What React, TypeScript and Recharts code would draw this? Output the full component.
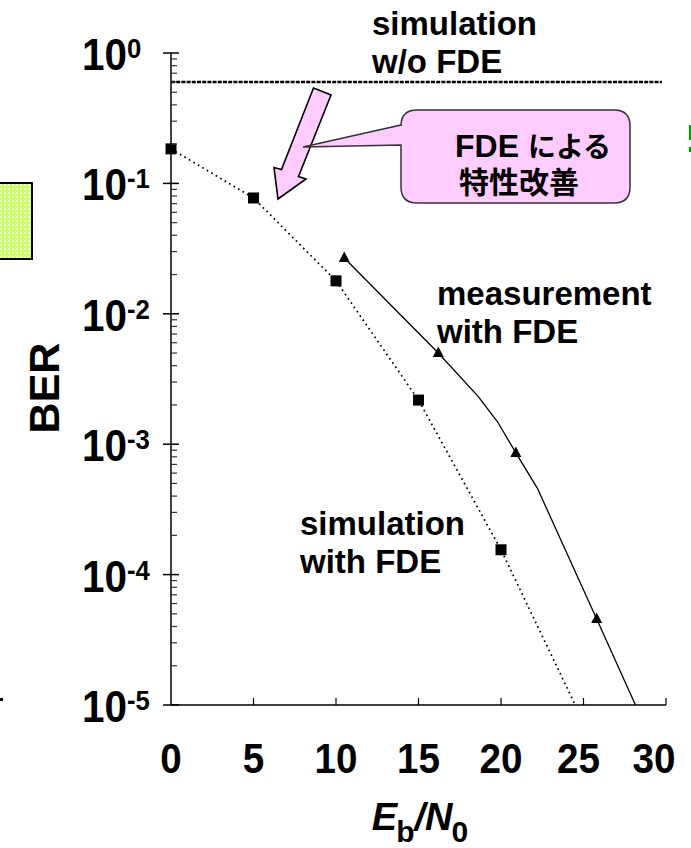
// BER vs Eb/N0: simulated FDE curve (dotted, squares), measured FDE curve
// (solid, triangles) and the flat simulation without FDE, on a log BER axis.
import React from "react";
import { Line, LineChart, XAxis, YAxis } from "recharts";

const FONT = '"Liberation Sans", Arial, Helvetica, sans-serif';
const CJK = '"Noto Sans CJK JP", "Noto Sans CJK SC", sans-serif';

// simulation with FDE — square markers
const simEbN0 = [0, 5, 10, 15, 20];
const simBer = [0.184, 0.0773, 0.0179, 0.00218, 0.000155];
// where the dotted curve runs out through the bottom of the axis
const simTailEbN0 = [24.5];
const simTailBer = [1e-5];

// measurement with FDE — triangle markers
const measEbN0 = [10.5, 16.2, 20.9, 25.8];
const measBer = [0.0268, 0.00501, 0.000857, 0.0000457];
// the solid measured curve, with its unmarked bends
const measCurveEbN0 = [10.5, 16.2, 18.6, 19.8, 20.9, 22.2, 25.8, 28.15];
const measCurveBer = [0.0268, 0.00501, 0.00234, 0.00148, 0.000857, 0.000461, 0.0000457, 0.00001];

// simulation w/o FDE — flat
const noFdeEbN0 = [0, 29.75];
const noFdeBer = [0.6, 0.6];

const xTicks = [0, 5, 10, 15, 20, 25, 30];
const decadeExps = [0, -1, -2, -3, -4, -5];
const minorSteps = [2, 3, 4, 5, 6, 7, 8, 9];

const zip = (xs: number[], ys: number[]) => xs.map((x, i) => ({ x, ber: ys[i] }));

const simRows = zip(simEbN0, simBer);
const simCurve = [...simRows, ...zip(simTailEbN0, simTailBer)];
const measRows = zip(measEbN0, measBer);
const measCurve = zip(measCurveEbN0, measCurveBer);
const noFdeRows = zip(noFdeEbN0, noFdeBer);

const majorTicks = decadeExps.map((e) => Math.pow(10, e));
const minorTicks = decadeExps
  .filter((e) => e < 0)
  .flatMap((e) => minorSteps.map((m) => m * Math.pow(10, e)));
const yTicks = [...majorTicks, ...minorTicks].sort((a, b) => a - b);

function YTick(props: any) {
  const { x, y, payload } = props;
  const lg = Math.log10(payload.value);
  const e = Math.round(lg);
  if (Math.abs(lg - e) > 1e-6) {
    return <line x1={x} x2={x + 6} y1={y} y2={y} stroke="#333" strokeWidth={1.2} />;
  }
  return (
    <g>
      <line x1={x - 8} x2={x + 8} y1={y} y2={y} stroke="#000" strokeWidth={1.5} />
      <g transform={`translate(${x - 89}, ${y + 17}) scale(0.92 1)`}>
        <text x={0} y={0} fontSize={44} fontWeight="bold" fontFamily={FONT} fill="#000">
          10
          <tspan dy={-12} fontSize={28}>
            {e === 0 ? "0" : `-${-e}`}
          </tspan>
        </text>
      </g>
    </g>
  );
}

function XTick(props: any) {
  const { x, y, payload } = props;
  const v = payload.value;
  const nudge = v === 30 ? -12 : v === 25 ? -5 : 0;
  return (
    <g>
      {v > 0 && <line x1={x} x2={x} y1={y} y2={y - 7} stroke="#000" strokeWidth={1.2} />}
      <g transform={`translate(${x + nudge}, ${y + 68}) scale(0.92 1)`}>
        <text x={0} y={0} textAnchor="middle" fontSize={42} fontWeight="bold" fontFamily={FONT} fill="#000">
          {v}
        </text>
      </g>
    </g>
  );
}

const squareDot = (p: any) => (
  <rect key={`sq${p.index}`} x={p.cx - 5.5} y={p.cy - 5.5} width={11} height={11} fill="#000" />
);
const triDot = (p: any) => (
  <polygon
    key={`tr${p.index}`}
    points={`${p.cx},${p.cy - 6.5} ${p.cx + 5.5},${p.cy + 4} ${p.cx - 5.5},${p.cy + 4}`}
    fill="#000"
  />
);

function Note({ x, y, lines }: { x: number; y: number; lines: string[] }) {
  return (
    <text x={x} y={y} fontSize={33} fontWeight="bold" fontFamily={FONT} fill="#000">
      {lines.map((l, i) => (
        <tspan key={i} x={x} dy={i === 0 ? 0 : 38}>
          {l}
        </tspan>
      ))}
    </text>
  );
}

function Overlay() {
  return (
    <svg
      width={691}
      height={848}
      style={{ position: "absolute", left: 0, top: 0, pointerEvents: "none" }}
    >
      <defs>
        <pattern id="chk" width={4} height={4} patternUnits="userSpaceOnUse">
          <rect width={4} height={4} fill="#ccff66" />
          <rect width={2} height={2} fill="#eeffc0" />
        </pattern>
      </defs>
      {/* cropped-off bits of the slide around the chart */}
      <rect x={-2} y={183} width={34} height={76} fill="url(#chk)" stroke="#000" strokeWidth={2} />
      <rect x={689} y={125} width={2} height={15} fill="#00a000" />
      <rect x={689} y={147} width={2} height={5} fill="#00a000" />
      <rect x={0} y={698} width={3} height={3} fill="#000" />

      {/* block arrow pointing at the gap */}
      <polygon
        points="313.5,88 331,95 298.5,176.5 306,179 278,199 274,167.5 281.5,169.5"
        fill="#ffccff"
        stroke="#000"
        strokeWidth={1.6}
      />
      {/* callout bubble */}
      <path
        d="M 417 110 H 614 Q 630 110 630 126 V 187 Q 630 203 614 203 H 417 Q 401 203 401 187 V 145 L 303 147 L 401 125 V 126 Q 401 110 417 110 Z"
        fill="#ffccff"
        stroke="#333"
        strokeWidth={1.5}
      />
      <text x={455} y={157} fill="#000">
        <tspan fontFamily={FONT} fontWeight="bold" fontSize={32}>
          FDE{" "}
        </tspan>
        <tspan fontFamily={CJK} fontWeight="bold" fontSize={28}>
          による
        </tspan>
        <tspan x={459} dy={36} fontFamily={CJK} fontWeight="bold" fontSize={30}>
          特性改善
        </tspan>
      </text>

      <Note x={372} y={35} lines={["simulation", "w/o FDE"]} />
      <Note x={437} y={305} lines={["measurement", "with FDE"]} />
      <Note x={300} y={535} lines={["simulation", "with FDE"]} />

      <text
        x={59}
        y={388}
        transform="rotate(-90 59 388)"
        textAnchor="middle"
        fontSize={43}
        fontWeight="bold"
        fontFamily={FONT}
        fill="#000"
      >
        BER
      </text>

      {/* Eb/N0 */}
      <text x={420} y={830} textAnchor="middle" fontWeight="bold" fontFamily={FONT} fill="#000">
        <tspan fontSize={38} fontStyle="italic">E</tspan>
        <tspan fontSize={30} dy={12} dx={-1}>b</tspan>
        <tspan fontSize={38} fontStyle="italic" dy={-12}>/</tspan>
        <tspan fontSize={38} fontStyle="italic">N</tspan>
        <tspan fontSize={30} dy={12} dx={-1}>0</tspan>
      </text>
    </svg>
  );
}

export default function App() {
  return (
    <div style={{ position: "absolute", left: 0, top: 0, width: 691, height: 848, background: "#fff" }}>
      <LineChart width={691} height={848} margin={{ top: 53, right: 25, bottom: 0, left: 0 }}>
        <XAxis
          type="number"
          dataKey="x"
          domain={[0, 30]}
          ticks={xTicks}
          interval={0}
          height={143}
          tickSize={0}
          tickMargin={0}
          tickLine={false}
          axisLine={{ stroke: "#000", strokeWidth: 1.5 }}
          tick={(p: any) => <XTick {...p} />}
        />
        <YAxis
          type="number"
          scale="log"
          domain={[1e-5, 1]}
          ticks={yTicks}
          interval={0}
          width={171}
          tickSize={0}
          tickMargin={0}
          tickLine={false}
          axisLine={{ stroke: "#000", strokeWidth: 1.5 }}
          tick={(p: any) => <YTick {...p} />}
        />
        <Line
          data={noFdeRows}
          dataKey="ber"
          stroke="#000"
          strokeWidth={2.6}
          strokeDasharray="4 1.2"
          dot={false}
          isAnimationActive={false}
        />
        <Line
          data={simCurve}
          dataKey="ber"
          stroke="#000"
          strokeWidth={1.7}
          strokeDasharray="1.7 3.5"
          dot={false}
          isAnimationActive={false}
        />
        <Line
          data={simRows}
          dataKey="ber"
          stroke="none"
          dot={squareDot}
          isAnimationActive={false}
        />
        <Line
          data={measCurve}
          dataKey="ber"
          stroke="#000"
          strokeWidth={1.3}
          dot={false}
          isAnimationActive={false}
        />
        <Line
          data={measRows}
          dataKey="ber"
          stroke="none"
          dot={triDot}
          isAnimationActive={false}
        />
      </LineChart>
      <Overlay />
    </div>
  );
}
